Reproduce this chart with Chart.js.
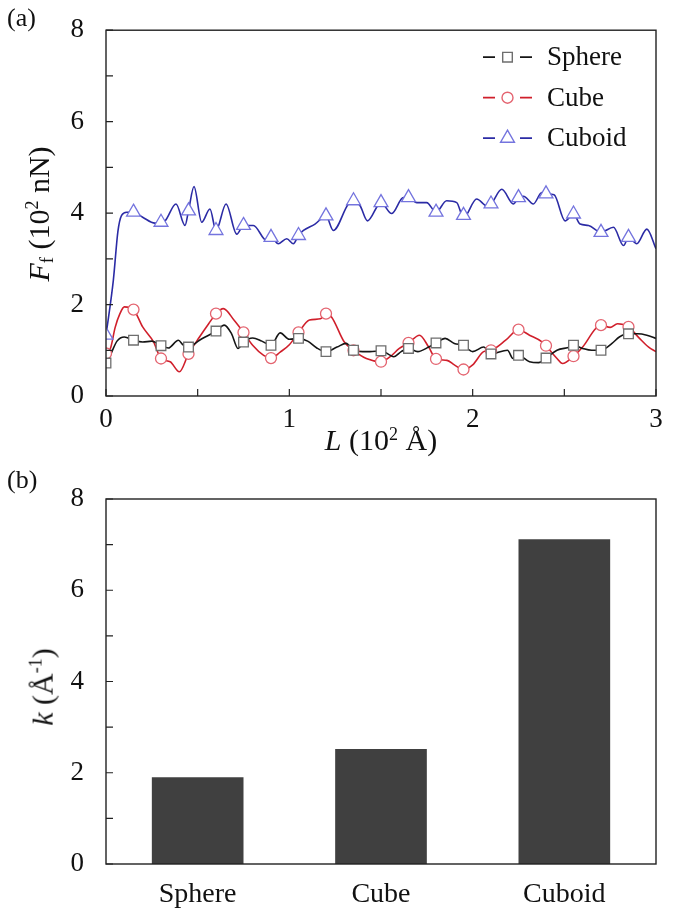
<!DOCTYPE html>
<html>
<head>
<meta charset="utf-8">
<script src="https://cdn.jsdelivr.net/npm/chart.js@4.4.1/dist/chart.umd.min.js"></script>
<style>
  body { margin: 0; background: #fff; }
  #page { position: relative; width: 675px; height: 919px; overflow: hidden;
    font-family: "Liberation Serif", "Times New Roman", serif; color: #111; }
  canvas { position: absolute; left: 0; }
  #chart-a { top: 0; }
  #chart-b { top: 460px; }
  .note { position: absolute; white-space: nowrap; line-height: 1; }
  .panel-tag { font-size: 26px; }
  .axis-title { font-size: 30px; transform: translate(-50%, -50%); }
  .axis-title.vertical { transform: translate(-50%, -50%) rotate(-90deg); }
  .sup { font-size: 0.6em; vertical-align: 0.6em; }
  .sub { font-size: 0.62em; vertical-align: -0.2em; }
</style>
</head>
<body>
<div id="page">
  <canvas id="chart-a" width="675" height="460"></canvas>
  <canvas id="chart-b" width="675" height="459"></canvas>
  <div class="note panel-tag" style="left:7px; top:5px;">(a)</div>
  <div class="note panel-tag" style="left:7px; top:467px;">(b)</div>
  <div class="note axis-title" style="left:381px; top:440px;"><i>L</i> (10<span class="sup">2</span> Å)</div>
  <div class="note axis-title vertical" style="left:40px; top:214px;"><i>F</i><span class="sub">f</span> (10<span class="sup">2</span> nN)</div>
  <div class="note axis-title vertical" style="left:42px; top:687px;"><i>k</i> (Å<span class="sup">-1</span>)</div>
</div>
<script>
// panel (a): friction force along the sliding distance, L in 10^2 Å, F in 10^2 nN
const markerL = [0, 0.15, 0.3, 0.45, 0.6, 0.75, 0.9, 1.05, 1.2, 1.35, 1.5, 1.65, 1.8, 1.95, 2.1, 2.25, 2.4, 2.55, 2.7, 2.85];

const sphereCurveL = [0, 0.03, 0.06, 0.1, 0.15, 0.2, 0.25, 0.3, 0.34, 0.395, 0.42, 0.45, 0.51, 0.56, 0.6, 0.645, 0.685, 0.72, 0.75, 0.8, 0.85, 0.9, 0.95, 1.0, 1.05, 1.1, 1.15, 1.2, 1.26, 1.31, 1.35, 1.4, 1.44, 1.5, 1.57, 1.61, 1.65, 1.7, 1.76, 1.8, 1.85, 1.9, 1.95, 2.0, 2.06, 2.1, 2.19, 2.22, 2.25, 2.31, 2.36, 2.4, 2.46, 2.53, 2.55, 2.6, 2.65, 2.7, 2.76, 2.8, 2.85, 2.9, 2.95, 3.0];
const sphereCurveF = [0.68, 0.95, 1.2, 1.29, 1.22, 1.18, 1.2, 1.1, 1.05, 1.22, 1.12, 1.07, 1.22, 1.33, 1.42, 1.55, 1.36, 1.04, 1.18, 1.27, 1.2, 1.11, 1.38, 1.24, 1.26, 1.2, 1.05, 0.97, 1.07, 1.15, 1.0, 0.97, 0.97, 0.99, 0.86, 0.97, 1.04, 0.97, 1.07, 1.16, 1.26, 1.15, 1.11, 0.97, 1.07, 0.92, 1.0, 0.82, 0.89, 0.75, 0.73, 0.83, 1.0, 1.07, 1.11, 1.04, 1.0, 1.0, 1.15, 1.29, 1.36, 1.36, 1.33, 1.26];
const sphereMarkF = [0.72, 1.22, 1.1, 1.07, 1.42, 1.18, 1.11, 1.26, 0.97, 1.0, 0.99, 1.04, 1.16, 1.11, 0.92, 0.89, 0.83, 1.11, 1.0, 1.36];

const cubeCurveL = [0, 0.025, 0.05, 0.076, 0.1, 0.15, 0.2, 0.26, 0.3, 0.35, 0.4, 0.45, 0.51, 0.56, 0.6, 0.64, 0.7, 0.75, 0.8, 0.86, 0.9, 0.95, 1.0, 1.05, 1.11, 1.17, 1.2, 1.23, 1.3, 1.35, 1.42, 1.5, 1.55, 1.6, 1.65, 1.71, 1.76, 1.8, 1.86, 1.9, 1.95, 2.0, 2.06, 2.1, 2.18, 2.25, 2.31, 2.38, 2.4, 2.46, 2.49, 2.55, 2.6, 2.67, 2.7, 2.75, 2.79, 2.85, 2.91, 2.96, 3.0];
const cubeCurveF = [0.93, 1.05, 1.5, 1.8, 1.95, 1.89, 1.51, 1.18, 0.82, 0.75, 0.53, 0.92, 1.29, 1.58, 1.8, 1.91, 1.65, 1.39, 1.11, 0.89, 0.83, 0.96, 1.12, 1.39, 1.66, 1.69, 1.8, 1.73, 1.18, 1.0, 0.82, 0.75, 0.86, 1.04, 1.16, 1.33, 1.07, 0.81, 0.78, 0.68, 0.58, 0.68, 0.97, 1.0, 1.22, 1.45, 1.33, 1.18, 1.1, 0.82, 0.71, 0.87, 1.07, 1.47, 1.55, 1.5, 1.58, 1.51, 1.26, 1.07, 0.97];
const cubeMarkF = [0.93, 1.89, 0.82, 0.92, 1.8, 1.39, 0.83, 1.39, 1.8, 1.0, 0.75, 1.16, 0.81, 0.58, 1.0, 1.45, 1.1, 0.87, 1.55, 1.51];

const cuboidCurveL = [0, 0.04, 0.065, 0.085, 0.113, 0.15, 0.2, 0.267, 0.3, 0.322, 0.382, 0.431, 0.45, 0.48, 0.522, 0.567, 0.6, 0.655, 0.713, 0.75, 0.804, 0.876, 0.9, 0.94, 0.986, 1.022, 1.05, 1.077, 1.14, 1.2, 1.24, 1.322, 1.35, 1.386, 1.426, 1.5, 1.558, 1.622, 1.65, 1.695, 1.749, 1.8, 1.858, 1.913, 1.95, 2.022, 2.077, 2.1, 2.159, 2.222, 2.25, 2.277, 2.331, 2.377, 2.4, 2.444, 2.504, 2.55, 2.586, 2.632, 2.7, 2.768, 2.823, 2.85, 2.895, 2.95, 3.0];
const cuboidCurveF = [1.33, 2.53, 3.6, 3.95, 4.02, 4.02, 3.91, 3.78, 3.8, 3.83, 4.2, 3.73, 4.05, 4.58, 3.8, 4.09, 3.62, 4.2, 3.54, 3.73, 3.73, 3.4, 3.47, 3.33, 3.44, 3.33, 3.51, 3.62, 3.76, 3.94, 3.62, 4.2, 4.27, 4.16, 3.83, 4.23, 3.99, 4.34, 4.34, 4.23, 4.23, 4.02, 4.27, 4.23, 3.9, 4.31, 4.16, 4.2, 4.52, 4.2, 4.34, 4.37, 4.2, 4.45, 4.42, 4.4, 3.83, 3.98, 3.76, 3.73, 3.58, 3.69, 3.29, 3.47, 3.33, 3.65, 3.22];
const cuboidMarkF = [1.33, 4.02, 3.8, 4.05, 3.62, 3.73, 3.47, 3.51, 3.94, 4.27, 4.23, 4.34, 4.02, 3.95, 4.2, 4.34, 4.42, 3.98, 3.58, 3.47];

// panel (b): k per shape, in 1/Å
const shapes = ["Sphere", "Cube", "Cuboid"];
const kValues = [1.9, 2.52, 7.12];

Chart.defaults.font.family = '"Liberation Serif", "Times New Roman", serif';
Chart.defaults.font.size = 27;
Chart.defaults.color = "#111";

function points(xs, ys) {
  return xs.map((x, i) => ({ x, y: ys[i] }));
}

function curveSet(label, xs, ys, color) {
  return {
    label,
    data: points(xs, ys),
    borderColor: color,
    borderWidth: 1.6,
    pointRadius: 0,
    cubicInterpolationMode: "monotone",
    fill: false,
    order: 2
  };
}

function markerSet(label, ys, lineColor, markColor, style, radius) {
  return {
    label,
    data: points(markerL, ys),
    showLine: false,
    pointStyle: style,
    pointRadius: radius,
    pointBorderWidth: 1.3,
    pointBorderColor: markColor,
    pointBackgroundColor: "#fff",
    lineColor,
    order: 1
  };
}

// box round the plot area, short ticks pointing inward
const framePlugin = {
  id: "frame",
  afterDatasetsDraw(chart, args, opts) {
    const { ctx, chartArea: a, scales } = chart;
    ctx.save();
    ctx.strokeStyle = "#222";
    ctx.lineWidth = 1.4;
    ctx.strokeRect(a.left, a.top, a.right - a.left, a.bottom - a.top);
    ctx.lineWidth = 1.2;
    ctx.beginPath();
    for (const t of scales.y.ticks) {
      const y = scales.y.getPixelForValue(t.value);
      ctx.moveTo(a.left, y);
      ctx.lineTo(a.left + 7, y);
    }
    if (opts.xTicks) {
      for (const t of scales.x.ticks) {
        const x = scales.x.getPixelForValue(t.value);
        ctx.moveTo(x, a.bottom);
        ctx.lineTo(x, a.bottom - 7);
      }
    }
    ctx.stroke();
    ctx.restore();
  }
};

// legend entries drawn as  -marker-  label
const symbolLegend = {
  id: "symbolLegend",
  afterDraw(chart) {
    const { ctx, chartArea: a } = chart;
    const sets = chart.data.datasets.filter((d) => d.showLine === false);
    const left = a.right - 173;
    ctx.save();
    ctx.font = '27px "Liberation Serif", serif';
    ctx.textBaseline = "middle";
    sets.forEach((d, i) => {
      const y = a.top + 27 + i * 40.5;
      ctx.strokeStyle = d.lineColor;
      ctx.lineWidth = 1.8;
      ctx.beginPath();
      ctx.moveTo(left, y);
      ctx.lineTo(left + 12, y);
      ctx.moveTo(left + 37, y);
      ctx.lineTo(left + 49, y);
      ctx.stroke();
      ctx.fillStyle = "#fff";
      ctx.strokeStyle = d.pointBorderColor;
      ctx.lineWidth = 1.4;
      Chart.helpers.drawPoint(ctx, { pointStyle: d.pointStyle, radius: d.pointRadius, rotation: 0, borderWidth: 1.4 }, left + 24.5, y);
      ctx.fillStyle = "#111";
      ctx.fillText(d.label, left + 64, y + 1);
    });
    ctx.restore();
  }
};

new Chart(document.querySelector("#chart-a"), {
  type: "line",
  data: {
    datasets: [
      curveSet("Sphere", sphereCurveL, sphereCurveF, "#151515"),
      curveSet("Cube", cubeCurveL, cubeCurveF, "#d01f2b"),
      curveSet("Cuboid", cuboidCurveL, cuboidCurveF, "#2b2ba5"),
      markerSet("Sphere", sphereMarkF, "#151515", "#6e6e6e", "rect", 6.8),
      markerSet("Cube", cubeMarkF, "#d01f2b", "#e46470", "circle", 5.5),
      markerSet("Cuboid", cuboidMarkF, "#2b2ba5", "#7474de", "triangle", 8)
    ]
  },
  options: {
    responsive: false,
    animation: false,
    layout: { padding: { left: 0, right: 19, top: 29, bottom: 24 } },
    plugins: {
      legend: { display: false },
      tooltip: { enabled: false },
      frame: { xTicks: true }
    },
    scales: {
      x: {
        type: "linear",
        min: 0,
        max: 3,
        grid: { display: false },
        border: { display: false },
        afterFit: (scale) => { scale.height = 40; },
        ticks: {
          stepSize: 0.5,
          autoSkip: false,
          maxRotation: 0,
          padding: 0,
          callback: (v) => (Number.isInteger(v) ? v : "")
        }
      },
      y: {
        min: 0,
        max: 8,
        grid: { display: false },
        border: { display: false },
        afterFit: (scale) => { scale.width = 106; },
        ticks: {
          stepSize: 1,
          padding: 14,
          callback: (v) => (v % 2 === 0 ? v : "")
        }
      }
    }
  },
  plugins: [framePlugin, symbolLegend]
});

new Chart(document.querySelector("#chart-b"), {
  type: "bar",
  data: {
    labels: shapes,
    datasets: [
      {
        data: kValues,
        backgroundColor: "#404040",
        barPercentage: 0.5,
        categoryPercentage: 1
      }
    ]
  },
  options: {
    responsive: false,
    animation: false,
    layout: { padding: { left: 0, right: 19, top: 39, bottom: 5 } },
    plugins: {
      legend: { display: false },
      tooltip: { enabled: false },
      frame: { xTicks: false }
    },
    scales: {
      x: {
        grid: { display: false },
        border: { display: false },
        afterFit: (scale) => { scale.height = 50; },
        ticks: { padding: 6, font: { size: 28 } }
      },
      y: {
        min: 0,
        max: 8,
        grid: { display: false },
        border: { display: false },
        afterFit: (scale) => { scale.width = 106; },
        ticks: {
          stepSize: 1,
          padding: 14,
          callback: (v) => (v % 2 === 0 ? v : "")
        }
      }
    }
  },
  plugins: [framePlugin]
});
</script>
</body>
</html>
